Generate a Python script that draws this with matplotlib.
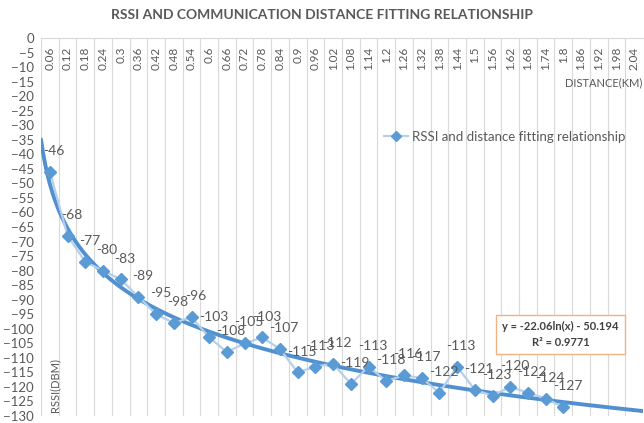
import numpy as np
import matplotlib.pyplot as plt
from matplotlib.lines import Line2D

# distance categories (km) shown on the top axis
distance_km = ["0.06", "0.12", "0.18", "0.24", "0.3", "0.36", "0.42", "0.48", "0.54", "0.6",
               "0.66", "0.72", "0.78", "0.84", "0.9", "0.96", "1.02", "1.08", "1.14", "1.2",
               "1.26", "1.32", "1.38", "1.44", "1.5", "1.56", "1.62", "1.68", "1.74", "1.8",
               "1.86", "1.92", "1.98", "2.04"]

# measured RSSI (dBm), one per category up to 1.8 km
rssi = [-46, -68, -77, -80, -83, -89, -95, -98, -96, -103,
        -108, -105, -103, -107, -115, -113, -112, -119, -113, -118,
        -116, -117, -122, -113, -121, -123, -120, -122, -124, -127]

# log trendline reported by the chart
fit_a = -22.06
fit_b = -50.194
fit_r2 = 0.9771

plt.rcParams['font.family'] = ['Lato', 'DejaVu Sans']

gray = "#595959"
blue = "#5B9BD5"
light_blue = "#B4D0EC"

fig = plt.figure(figsize=(6.44, 4.23), dpi=100)
ax = fig.add_axes([41 / 644, 1 - 416 / 423, 602 / 644, 378 / 423])

n_cat = len(distance_km)
xs = np.arange(1, len(rssi) + 1)

ax.set_xlim(0.5, n_cat + 0.5)
ax.set_ylim(-130, 0)

# category boundary gridlines
for b in np.arange(0.5, n_cat + 1.0, 1.0):
    ax.axvline(b, color="#D9D9D9", lw=0.8, zorder=0)

ax.set_xticks([])
ax.set_yticks(np.arange(0, -131, -5))
ax.tick_params(axis="y", length=0, labelsize=9.5, labelcolor=gray, pad=5)
for s in ["right", "bottom", "left"]:
    ax.spines[s].set_visible(False)
ax.spines["top"].set_color("#D9D9D9")

# category labels just under the x axis (which sits at y=0)
for i, lab in enumerate(distance_km):
    ax.text(i + 1, -3.0, lab, rotation=90, ha="center", va="top",
            fontsize=8.5, color=gray)

# trendline
xt = np.linspace(0.5, n_cat + 0.5, 300)
ax.plot(xt, fit_a * np.log(xt) + fit_b, color="#5090D0", lw=2.8, zorder=2,
        solid_capstyle="round")

# data series
ax.plot(xs, rssi, color=light_blue, lw=1.6, zorder=3)
ax.plot(xs, rssi, ls="none", marker="D", markersize=6.5, color=blue,
        markeredgecolor=blue, zorder=4)

for x, v in zip(xs, rssi):
    ax.annotate(str(v), (x, v), xytext=(3, 15), textcoords="offset points",
                ha="center", va="center", fontsize=10, color=gray, zorder=5)

ax.text(n_cat + 0.45, -15.5, "DISTANCE(KM)", ha="right", va="center",
        fontsize=8, color=gray)
ax.text(1.3, -130 + 1.5, "RSSI(DBM)", rotation=90, ha="center", va="bottom",
        fontsize=8, color=gray)

ax.text(29.85, -102.1, f"y = {fit_a}ln(x) - {abs(fit_b)}\nR² = {fit_r2}",
        ha="center", va="center", fontsize=8, fontweight="bold", color="#404040",
        linespacing=1.55,
        bbox=dict(boxstyle="square,pad=0.55", fc="white", ec="#F4B183", lw=1))

handle = Line2D([], [], color=light_blue, lw=1.6, marker="D", markersize=5,
                markerfacecolor=blue, markeredgecolor=blue)
fig.legend([handle], ["RSSI and distance fitting relationship"],
           loc="center left", bbox_to_anchor=(372 / 644, 1 - 137 / 423),
           frameon=False, fontsize=9.5, labelcolor=gray, handlelength=1.8,
           handletextpad=0.3)

fig.text(0.5, 1 - 15 / 423, "RSSI AND COMMUNICATION DISTANCE FITTING RELATIONSHIP",
         ha="center", va="center", fontsize=10, fontweight="bold", color=gray)

fig.savefig("out.png", dpi=100)
